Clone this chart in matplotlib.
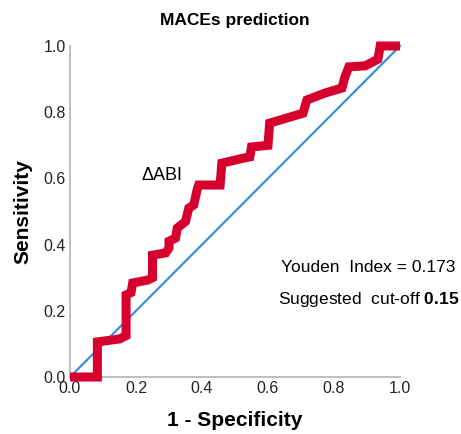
import matplotlib
matplotlib.use("Agg")
import matplotlib.pyplot as plt

# ROC curve points
fpr = [0.0, 0.083, 0.083, 0.15, 0.17, 0.17, 0.185, 0.19, 0.236, 0.25, 0.25,
       0.29, 0.30, 0.30, 0.32, 0.325, 0.35, 0.36, 0.375, 0.385, 0.39, 0.455,
       0.46, 0.52, 0.545, 0.55, 0.60, 0.605, 0.706, 0.718, 0.773, 0.824,
       0.833, 0.845, 0.894, 0.933, 0.94, 1.0]
tpr = [0.0, 0.0, 0.106, 0.115, 0.125, 0.248, 0.255, 0.284, 0.293, 0.30, 0.368,
       0.375, 0.39, 0.41, 0.42, 0.45, 0.47, 0.51, 0.52, 0.565, 0.58, 0.58,
       0.646, 0.66, 0.665, 0.695, 0.70, 0.767, 0.797, 0.837, 0.858, 0.873,
       0.906, 0.937, 0.94, 0.96, 1.0, 1.0]
ref_line = [0.0, 1.0]
ticks = [0.0, 0.2, 0.4, 0.6, 0.8, 1.0]

plt.rcParams['font.family'] = ['Liberation Sans', 'DejaVu Sans']
plt.rcParams['mathtext.fontset'] = 'custom'
plt.rcParams['mathtext.rm'] = 'Liberation Sans'
plt.rcParams['mathtext.bf'] = 'Liberation Sans:bold'

fig = plt.figure(figsize=(4.61, 4.34), dpi=100)
ax = fig.add_axes([0.1518, 0.1313, 0.7159, 0.7627])

ax.plot(ref_line, ref_line, color='#3d8ee0', lw=1.6, zorder=2, clip_on=False)
ax.plot(fpr, tpr, color='#d6002e', lw=6.5, solid_joinstyle='miter',
        solid_capstyle='butt', zorder=3, clip_on=False)

ax.set_xlim(0, 1)
ax.set_ylim(0, 1)
ax.set_xticks(ticks)
ax.set_yticks(ticks)
ax.set_xticklabels([f"{t:.1f}" for t in ticks])
ax.set_yticklabels([f"{t:.1f}" for t in ticks])
ax.tick_params(length=0, labelsize=11.5, pad=3, labelcolor='#222222')
for s in ['top', 'right']:
    ax.spines[s].set_visible(False)
for s in ['left', 'bottom']:
    ax.spines[s].set_color('#b4b4b4')
    ax.spines[s].set_linewidth(1.2)

ax.set_title("MACEs prediction", fontsize=12.5, fontweight='bold', pad=15)
ax.set_xlabel("1 - Specificity", fontsize=15, fontweight='bold', labelpad=11)
ax.set_ylabel("Sensitivity", fontsize=15, fontweight='bold', labelpad=8)

ax.text(0.28, 0.61, "ΔABI", fontsize=13, ha='center', va='center')
ax.text(0.905, 0.33, "Youden  Index = 0.173", fontsize=12.5, ha='center',
        va='center', clip_on=False)
ax.text(0.905, 0.233, r"Suggested  cut-off $\mathbf{0.15}$", fontsize=12.5,
        ha='center', va='center', clip_on=False)

fig.savefig("out.png", dpi=100)
